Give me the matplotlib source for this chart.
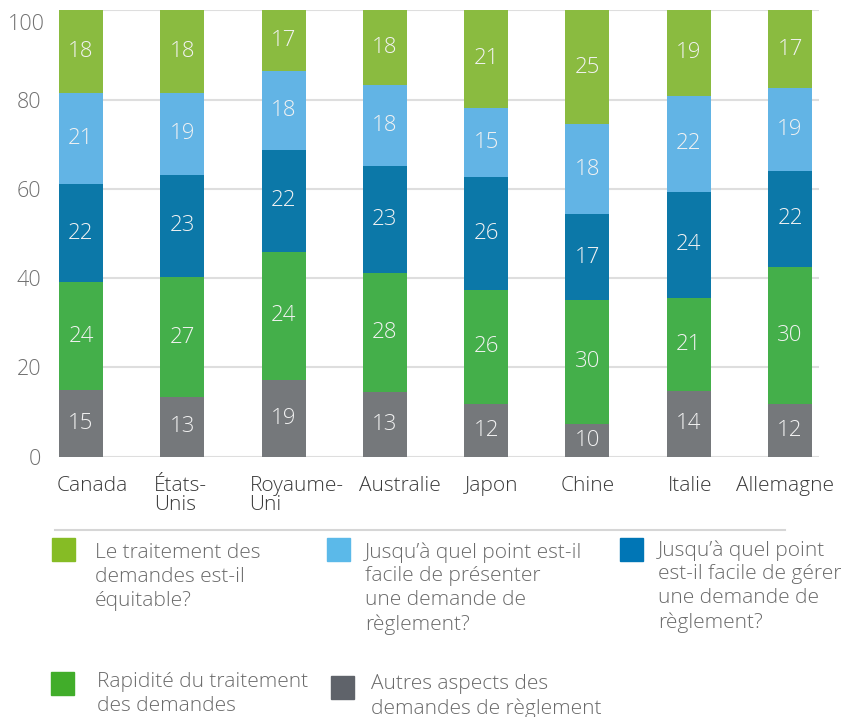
import matplotlib
matplotlib.use("Agg")
import matplotlib.pyplot as plt
import matplotlib.transforms as mtransforms
from matplotlib.patches import Rectangle
import numpy as np

plt.rcParams["font.family"] = ["Open Sans", "DejaVu Sans"]

# Data (bar heights, printed labels as shown)
countries = ["Canada", "États-\nUnis", "Royaume-\nUni", "Australie",
             "Japon", "Chine", "Italie", "Allemagne"]

autres = [14.9, 13.4, 17.2, 14.6, 11.9, 7.4, 14.7, 11.9]
rapidite = [24.2, 26.8, 28.7, 26.5, 25.4, 27.7, 20.9, 30.6]
gerer = [22.0, 23.0, 22.8, 24.1, 25.3, 19.2, 23.7, 21.5]
presenter = [20.4, 18.3, 17.7, 18.0, 15.6, 20.2, 21.6, 18.6]
equitable = [18.5, 18.5, 13.6, 16.8, 21.8, 25.5, 19.1, 17.4]

autres_lbl = [15, 13, 19, 13, 12, 10, 14, 12]
rapidite_lbl = [24, 27, 24, 28, 26, 30, 21, 30]
gerer_lbl = [22, 23, 22, 23, 26, 17, 24, 22]
presenter_lbl = [21, 19, 18, 18, 15, 18, 22, 19]
equitable_lbl = [18, 18, 17, 18, 21, 25, 19, 17]

series = [
    (autres, autres_lbl, "#75787B"),
    (rapidite, rapidite_lbl, "#44AF4A"),
    (gerer, gerer_lbl, "#0C78A8"),
    (presenter, presenter_lbl, "#62B4E5"),
    (equitable, equitable_lbl, "#8ABB40"),
]

legend_items = [
    ("Le traitement des\ndemandes est-il\néquitable?", "#86BC25"),
    ("Jusqu’à quel point est-il\nfacile de présenter\nune demande de\nrèglement?", "#5BB9E9"),
    ("Jusqu’à quel point\nest-il facile de gérer\nune demande de\nrèglement?", "#0076B6"),
    ("Rapidité du traitement\ndes demandes", "#41AD2A"),
    ("Autres aspects des\ndemandes de règlement", "#5F636A"),
]

W, H = 856, 717
fig = plt.figure(figsize=(W / 100, H / 100), dpi=100)


def fx(px):
    return px / W


def fy(py):
    return 1 - py / H


ax = fig.add_axes([fx(59), fy(456.7), fx(819) - fx(59), fy(10.3) - fy(456.7)])

x = np.arange(len(countries))
width = 0.434
bottom = np.zeros(len(countries))
for vals, lbls, color in series:
    vals = np.array(vals)
    ax.bar(x, vals, width, bottom=bottom, color=color, zorder=3)
    for xi, b, v, lab in zip(x, bottom, vals, lbls):
        ax.text(xi, b + v / 2, str(lab), ha="center", va="center",
                fontsize=16, fontweight="light", color="#F2F2F2", zorder=4)
    bottom += vals

ax.set_xlim(-width / 2, 7.286)
ax.set_ylim(0, 100)
ax.set_yticks([0, 20, 40, 60, 80, 100])
ax.yaxis.grid(True, color="#DEDEDE", linewidth=1.5, zorder=0)
ax.set_axisbelow(True)
for s in ax.spines.values():
    s.set_visible(False)
ax.tick_params(axis="both", length=0)
ax.tick_params(axis="y", pad=13, labelsize=15.5, labelcolor="#707070")
for t in ax.get_yticklabels():
    t.set_fontweight("light")

ax.set_xticks(x)
ax.set_xticklabels(countries, fontsize=15, color="#3A3A3A", fontweight="light",
                   linespacing=0.95, multialignment="left")
ax.tick_params(axis="x", pad=14)

# per-label horizontal nudges (pixels) to follow the original layout
x_shift = [11, -2, 13, 15, 5, 0, 1, -5]
for t, dx in zip(ax.get_xticklabels(), x_shift):
    t.set_transform(t.get_transform() +
                    mtransforms.ScaledTranslation(dx / 100, 0, fig.dpi_scale_trans))
ylabels = ax.get_yticklabels()
ylabels[-1].set_transform(ylabels[-1].get_transform() +
                          mtransforms.ScaledTranslation(0.04, -0.12, fig.dpi_scale_trans))

# separator above legend
fig.add_artist(plt.Line2D([fx(55), fx(785)], [fy(530), fy(530)],
                          color="#D6D6D6", linewidth=1.5))

# legend, laid out by hand
squares = [(52, 538), (327, 538), (620, 538), (51, 672), (331, 676)]
text_pos = [(95, 543), (365, 542), (658, 540), (97, 672), (371, 674)]
for (label, color), (sx, sy), (tx, ty) in zip(legend_items, squares, text_pos):
    fig.add_artist(Rectangle((fx(sx), fy(sy + 23)), fx(23), 23 / H,
                             transform=fig.transFigure, color=color))
    fig.text(fx(tx), fy(ty), label, ha="left", va="top", fontsize=15,
             fontweight="light", color="#6A6A6A", linespacing=1.26)

fig.savefig("out.png", dpi=100)
